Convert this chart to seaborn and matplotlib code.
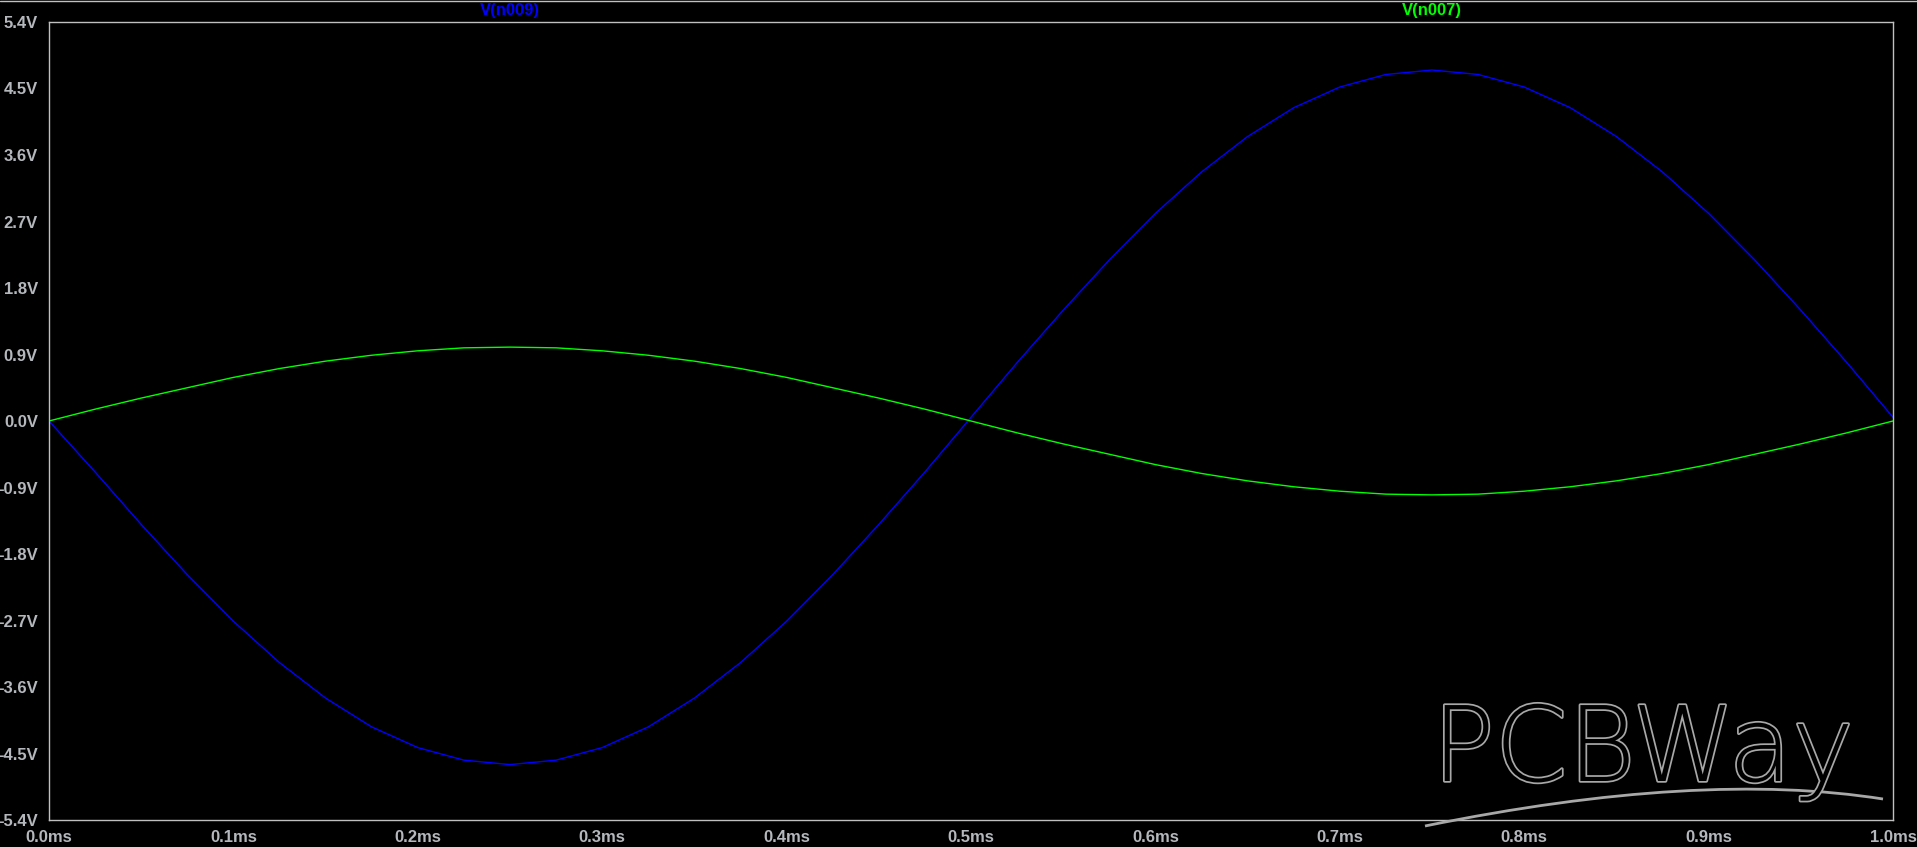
import numpy as np
import pandas as pd
import matplotlib
matplotlib.use("Agg")
import matplotlib.pyplot as plt
import matplotlib.patheffects as pe
from matplotlib.path import Path
from matplotlib.patches import PathPatch
import seaborn as sns

# time axis (ms), one sample every 0.025 ms
time_ms = [0.000, 0.025, 0.050, 0.075, 0.100, 0.125, 0.150, 0.175, 0.200, 0.225,
           0.250, 0.275, 0.300, 0.325, 0.350, 0.375, 0.400, 0.425, 0.450, 0.475,
           0.500, 0.525, 0.550, 0.575, 0.600, 0.625, 0.650, 0.675, 0.700, 0.725,
           0.750, 0.775, 0.800, 0.825, 0.850, 0.875, 0.900, 0.925, 0.950, 0.975,
           1.000]

# V(n009) - blue trace
v_n009 = [0.00, -0.69, -1.40, -2.08, -2.71, -3.27, -3.75, -4.14, -4.42, -4.59,
          -4.65, -4.59, -4.42, -4.14, -3.75, -3.27, -2.71, -2.08, -1.40, -0.69,
          0.05, 0.79, 1.50, 2.18, 2.81, 3.37, 3.85, 4.24, 4.52, 4.69,
          4.75, 4.69, 4.52, 4.24, 3.85, 3.37, 2.81, 2.18, 1.50, 0.79,
          0.05]

# V(n007) - green trace
v_n007 = [0.00, 0.16, 0.31, 0.45, 0.59, 0.71, 0.81, 0.89, 0.95, 0.99,
          1.00, 0.99, 0.95, 0.89, 0.81, 0.71, 0.59, 0.45, 0.31, 0.16,
          0.00, -0.16, -0.31, -0.45, -0.59, -0.71, -0.81, -0.89, -0.95, -0.99,
          -1.00, -0.99, -0.95, -0.89, -0.81, -0.71, -0.59, -0.45, -0.31, -0.16,
          0.00]

y_ticks = [-5.4, -4.5, -3.6, -2.7, -1.8, -0.9, 0.0, 0.9, 1.8, 2.7, 3.6, 4.5, 5.4]
x_ticks = [0.0, 0.1, 0.2, 0.3, 0.4, 0.5, 0.6, 0.7, 0.8, 0.9, 1.0]

df = pd.DataFrame({"t": time_ms * 2,
                   "v": v_n009 + v_n007,
                   "trace": ["V(n009)"] * len(v_n009) + ["V(n007)"] * len(v_n007)})

sns.set_style("dark")
plt.rcParams["font.family"] = ["Liberation Sans", "DejaVu Sans"]

grey = "#c0c0c0"
label_grey = "#b4b8bc"

fig = plt.figure(figsize=(19.17, 8.47), dpi=100, facecolor="black")
ax = fig.add_axes([49 / 1917, 27 / 847, 1844 / 1917, 798 / 847])
ax.set_facecolor("black")

sns.lineplot(data=df, x="t", y="v", hue="trace",
             palette={"V(n009)": "#0000ff", "V(n007)": "#00ff00"},
             linewidth=1.0, legend=False, ax=ax)

ax.set_xlim(0, 1.0)
ax.set_ylim(-5.4, 5.4)
ax.set_xticks(x_ticks)
ax.set_xticklabels([f"{x:.1f}ms" for x in x_ticks])
ax.set_yticks(y_ticks)
ax.set_yticklabels([f"{y:.1f}V" for y in y_ticks])
ax.set_xlabel("")
ax.set_ylabel("")
ax.grid(False)

for s in ax.spines.values():
    s.set_visible(True)
    s.set_color(grey)
    s.set_linewidth(1.0)

ax.tick_params(axis="both", colors=grey, length=6, width=1.0, direction="out",
               labelcolor=label_grey, labelsize=12)
ax.tick_params(axis="y", pad=2)
ax.tick_params(axis="x", pad=1)
for lbl in ax.get_xticklabels() + ax.get_yticklabels():
    lbl.set_fontweight("bold")

# trace names across the top
fig.text(510 / 1917, 1 - 11 / 847, "V(n009)", color="#0000ff", fontsize=12,
         fontweight="bold", ha="center", va="center")
fig.text(1432 / 1917, 1 - 11 / 847, "V(n007)", color="#00ff00", fontsize=12,
         fontweight="bold", ha="center", va="center")

# thin window border along the top
fig.add_artist(plt.Line2D([0, 1], [1 - 1 / 847, 1 - 1 / 847], color=grey,
                          linewidth=1.0, transform=fig.transFigure))

# PCBWay watermark
wm = fig.text(1432 / 1917, 1 - 781 / 847, "PCBWay", fontsize=75, color="black",
              ha="left", va="baseline", family=["DejaVu Sans"],
              fontweight="light")
wm.set_path_effects([pe.withStroke(linewidth=2.5, foreground="#a8a8a8")])
swoosh = Path([(1425 / 1917, 1 - 826 / 847), (1700 / 1917, 1 - 770 / 847),
               (1883 / 1917, 1 - 799 / 847)],
              [Path.MOVETO, Path.CURVE3, Path.CURVE3])
fig.add_artist(PathPatch(swoosh, facecolor="none", edgecolor="#a8a8a8",
                         linewidth=2.0, transform=fig.transFigure))

fig.savefig("out.png", dpi=100, facecolor="black")
